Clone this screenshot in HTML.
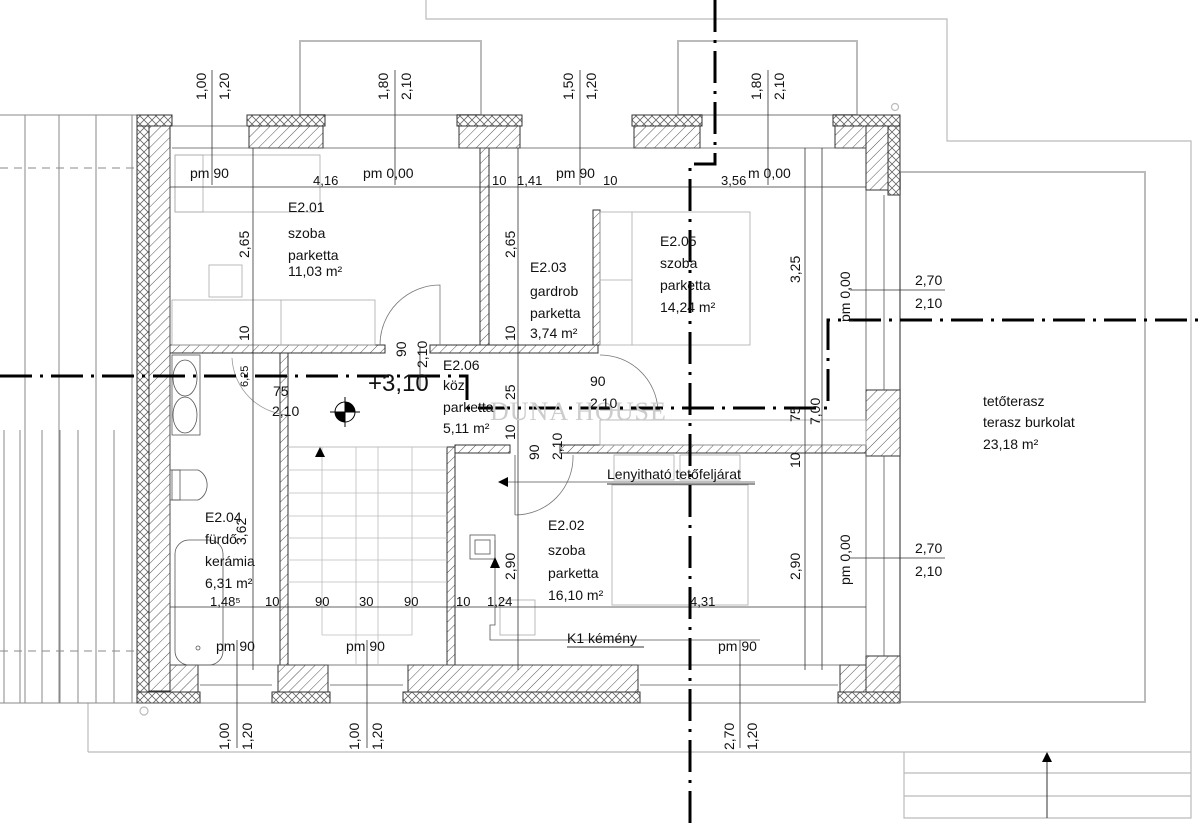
<!DOCTYPE html>
<html><head><meta charset="utf-8"><style>
html,body{margin:0;padding:0;background:#fff;}
svg{display:block;font-family:"Liberation Sans",Arial,sans-serif;}
</style></head><body>
<svg width="1200" height="824" viewBox="0 0 1200 824" xmlns="http://www.w3.org/2000/svg">
<defs>
<pattern id="h" width="7" height="7" patternUnits="userSpaceOnUse" patternTransform="rotate(45)">
<rect width="7" height="7" fill="#fff"/><line x1="0" y1="0" x2="0" y2="7" stroke="#555" stroke-width="1"/></pattern>
<pattern id="x" width="8" height="8" patternUnits="userSpaceOnUse">
<rect width="8" height="8" fill="#fff"/><path d="M0 0L8 8M8 0L0 8" stroke="#666" stroke-width="0.8"/></pattern>
</defs>
<rect width="1200" height="824" fill="#fff"/>
<!-- outer context lines -->
<g fill="none" stroke="#bbb" stroke-width="1.2">
<polyline points="426,0 426,19 947,19 947,141 1191,141 1191,818 904,818 904,752"/>
<line x1="88" y1="752" x2="1191" y2="752"/>
<line x1="88" y1="703" x2="88" y2="752"/>
<line x1="904" y1="773" x2="1191" y2="773"/>
<line x1="904" y1="796" x2="1191" y2="796"/>
<rect x="300" y="41" width="181" height="74" stroke-width="2"/>
<rect x="678" y="41" width="179" height="74" stroke-width="2"/>
<rect x="900" y="172" width="245" height="530" stroke-width="2"/>
<circle cx="895" cy="107" r="3.5"/><circle cx="144" cy="711" r="4"/>
</g>
<line x1="1047" y1="818" x2="1047" y2="760" stroke="#333"/>
<polygon points="1047,752 1042,762 1052,762" fill="#000"/>
<!-- left stripes -->
<g stroke="#888" stroke-width="1">
<line x1="0" y1="115" x2="137" y2="115"/><line x1="0" y1="703" x2="137" y2="703"/>
<line x1="25" y1="115" x2="25" y2="703"/><line x1="59" y1="115" x2="59" y2="703"/>
<line x1="96" y1="115" x2="96" y2="703"/><line x1="132" y1="115" x2="132" y2="703"/>
<line x1="4" y1="430" x2="4" y2="703"/><line x1="20" y1="430" x2="20" y2="703"/><line x1="42" y1="430" x2="42" y2="703"/><line x1="60" y1="430" x2="60" y2="703"/><line x1="78" y1="430" x2="78" y2="703"/><line x1="114" y1="430" x2="114" y2="703"/>
<line x1="0" y1="168" x2="135" y2="168" stroke-dasharray="8,6"/>
<line x1="0" y1="651" x2="135" y2="651" stroke-dasharray="8,6"/>
</g>
<!-- walls -->
<g stroke="#333" stroke-width="1">
<rect x="137" y="115" width="12" height="588" fill="url(#x)"/>
<rect x="149" y="126" width="21" height="565" fill="url(#h)"/>
<rect x="888" y="115" width="12" height="80" fill="url(#x)"/>
<rect x="866" y="126" width="22" height="64" fill="url(#h)"/>
<rect x="866" y="390" width="34" height="66" fill="url(#h)"/>
<rect x="866" y="656" width="34" height="47" fill="url(#h)"/>
<rect x="137" y="115" width="35" height="11" fill="url(#x)"/>
<rect x="247" y="115" width="78" height="11" fill="url(#x)"/><rect x="249" y="126" width="74" height="22" fill="url(#h)"/>
<rect x="457" y="115" width="65" height="11" fill="url(#x)"/><rect x="459" y="126" width="61" height="22" fill="url(#h)"/>
<rect x="632" y="115" width="70" height="11" fill="url(#x)"/><rect x="634" y="126" width="66" height="22" fill="url(#h)"/>
<rect x="833" y="115" width="67" height="11" fill="url(#x)"/><rect x="835" y="126" width="31" height="22" fill="url(#h)"/>
<rect x="137" y="692" width="63" height="11" fill="url(#x)"/><rect x="170" y="665" width="28" height="27" fill="url(#h)"/>
<rect x="272" y="692" width="58" height="11" fill="url(#x)"/><rect x="278" y="665" width="50" height="27" fill="url(#h)"/>
<rect x="403" y="692" width="237" height="11" fill="url(#x)"/><rect x="408" y="665" width="230" height="27" fill="url(#h)"/>
<rect x="838" y="692" width="62" height="11" fill="url(#x)"/><rect x="840" y="665" width="26" height="27" fill="url(#h)"/>
<!-- interior -->
<rect x="170" y="345" width="215" height="8" fill="url(#h)"/>
<rect x="430" y="345" width="168" height="8" fill="url(#h)"/>
<rect x="480" y="148" width="9" height="197" fill="url(#h)"/>
<rect x="593" y="210" width="7" height="135" fill="url(#h)"/>
<rect x="280" y="353" width="8" height="312" fill="url(#h)"/>
<rect x="447" y="447" width="8" height="218" fill="url(#h)"/>
<rect x="455" y="445" width="55" height="8" fill="url(#h)"/>
<rect x="560" y="445" width="306" height="8" fill="url(#h)"/>
</g>
<g fill="none" stroke="#555" stroke-width="0.8">
<line x1="172" y1="126" x2="247" y2="126"/><line x1="172" y1="148" x2="866" y2="148"/>
<line x1="170" y1="665" x2="866" y2="665"/><line x1="137" y1="703" x2="900" y2="703"/>
<line x1="200" y1="685" x2="272" y2="685"/><line x1="330" y1="685" x2="403" y2="685"/><line x1="640" y1="685" x2="838" y2="685"/>
<line x1="866" y1="190" x2="866" y2="656"/><line x1="900" y1="190" x2="900" y2="703"/><line x1="884" y1="195" x2="884" y2="390"/><line x1="884" y1="456" x2="884" y2="656"/>
<line x1="170" y1="148" x2="170" y2="665"/>
<!-- furniture -->
<g stroke="#aaa">
<rect x="175" y="155" width="145" height="57"/><rect x="175" y="155" width="28" height="57"/>
<rect x="209" y="265" width="33" height="32"/><rect x="172" y="300" width="203" height="45"/><line x1="281" y1="300" x2="281" y2="345"/>
<rect x="600" y="212" width="150" height="133"/><line x1="632" y1="212" x2="632" y2="345"/><line x1="600" y1="280" x2="632" y2="280"/>
<rect x="612" y="485" width="136" height="120"/><rect x="614" y="455" width="60" height="25"/><rect x="680" y="455" width="60" height="25"/>
<rect x="500" y="600" width="35" height="35"/>
<rect x="600" y="420" width="266" height="25"/>
</g>
<!-- stairs -->
<g stroke="#bbb">
<line x1="288" y1="447" x2="447" y2="447"/><line x1="288" y1="470" x2="447" y2="470"/><line x1="288" y1="493" x2="447" y2="493"/><line x1="288" y1="516" x2="447" y2="516"/><line x1="288" y1="538" x2="447" y2="538"/><line x1="288" y1="560" x2="447" y2="560"/><line x1="288" y1="582" x2="447" y2="582"/>
<line x1="322" y1="447" x2="322" y2="635"/><line x1="356" y1="447" x2="356" y2="665"/><line x1="378" y1="447" x2="378" y2="665"/><line x1="412" y1="447" x2="412" y2="635"/><line x1="322" y1="635" x2="412" y2="635"/>
<line x1="288" y1="447" x2="447" y2="447"/>
</g>
<!-- bathroom fixtures -->
<ellipse cx="185" cy="378" rx="12" ry="18"/><ellipse cx="185" cy="415" rx="12" ry="18"/><rect x="172" y="355" width="28" height="80"/>
<path d="M172 470 H198 A14 16 0 0 1 198 500 H172 Z"/><rect x="170" y="470" width="10" height="30"/>
<rect x="175" y="540" width="48" height="125" rx="14"/>
<circle cx="198" cy="648" r="2"/>
<!-- doors -->
<path d="M380 345 A60 60 0 0 1 440 285 L440 345" stroke="#777"/>
<path d="M290 415 A60 60 0 0 1 232 358" stroke="#999"/>
<path d="M600 355 A58 58 0 0 1 658 410" stroke="#777"/><line x1="600" y1="410" x2="660" y2="410" stroke="#999"/>
<path d="M515 515 A58 58 0 0 0 573 455" stroke="#777"/><line x1="515" y1="455" x2="515" y2="515"/>
<rect x="470" y="535" width="25" height="24"/><rect x="475" y="540" width="15" height="14"/>
<polyline points="495,540 495,625 490,625 490,640 760,640"/>
<line x1="500" y1="482" x2="755" y2="482"/>
</g>
<polygon points="495,557 490,568 500,568" fill="#000"/>
<polygon points="498,482 508,477 508,487" fill="#000"/>
<polygon points="320,447 315,457 325,457" fill="#000"/>
<!-- level marker -->
<circle cx="345" cy="412" r="10" fill="#fff" stroke="#000"/>
<path d="M345 412 V402 A10 10 0 0 1 355 412 Z M345 412 V422 A10 10 0 0 1 335 412 Z" fill="#000"/>
<line x1="330" y1="412" x2="360" y2="412" stroke="#000"/><line x1="345" y1="397" x2="345" y2="427" stroke="#000"/>
<!-- dimension lines -->
<g stroke="#333" stroke-width="0.8" fill="none">
<line x1="170" y1="187" x2="866" y2="187"/>
<line x1="170" y1="607" x2="866" y2="607"/>
<line x1="253" y1="148" x2="253" y2="670"/>
<line x1="518" y1="148" x2="518" y2="670"/>
<line x1="805" y1="148" x2="805" y2="670"/>
<line x1="822" y1="148" x2="822" y2="670"/>
<line x1="212" y1="70" x2="212" y2="185"/><line x1="395" y1="70" x2="395" y2="185"/><line x1="580" y1="70" x2="580" y2="185"/><line x1="768" y1="70" x2="768" y2="185"/>
<line x1="237" y1="640" x2="237" y2="748"/><line x1="367" y1="640" x2="367" y2="748"/><line x1="740" y1="640" x2="740" y2="748"/>
<line x1="850" y1="290" x2="945" y2="290"/><line x1="850" y1="558" x2="945" y2="558"/>
<line x1="420" y1="347" x2="420" y2="390"/>
</g>
<!-- axis lines -->
<g stroke="#000" stroke-width="3" fill="none" stroke-dasharray="32,8,3,8">
<polyline points="0,376 467,376 467,408 828,408 828,320 1200,320"/>
<polyline points="715,0 715,164 690,164 690,824"/>
</g>
<!-- watermark -->
<text x="490" y="420" font-family="'Liberation Serif',serif" font-size="26" fill="#ccc" letter-spacing="1">DUNA HOUSE</text>
<!-- texts -->
<g font-size="14" fill="#111">
<text x="190" y="178">pm 90</text><text x="313" y="185" font-size="13">4,16</text><text x="363" y="178">pm 0,00</text>
<text x="492" y="185" font-size="13">10</text><text x="517" y="185" font-size="13">1,41</text><text x="556" y="178">pm 90</text><text x="603" y="185" font-size="13">10</text>
<text x="721" y="185" font-size="13">3,56</text><text x="748" y="178">m 0,00</text>
<text x="288" y="212">E2.01</text><text x="288" y="238">szoba</text><text x="288" y="260">parketta</text><text x="288" y="276">11,03 m²</text>
<text x="530" y="272">E2.03</text><text x="530" y="296">gardrob</text><text x="530" y="318">parketta</text><text x="530" y="338">3,74 m²</text>
<text x="660" y="246">E2.05</text><text x="660" y="268">szoba</text><text x="660" y="290">parketta</text><text x="660" y="312">14,24 m²</text>
<text x="443" y="370">E2.06</text><text x="443" y="390">köz.</text><text x="443" y="412">parketta</text><text x="443" y="433">5,11 m²</text>
<text x="368" y="391" font-size="24">+3,10</text>
<text x="273" y="396">75</text><text x="272" y="416">2,10</text>
<text x="590" y="386">90</text><text x="590" y="408">2,10</text>
<text x="607" y="479">Lenyitható tetőfeljárat</text>
<text x="205" y="522">E2.04</text><text x="205" y="544">fürdő</text><text x="205" y="566">kerámia</text><text x="205" y="588">6,31 m²</text>
<text x="548" y="530">E2.02</text><text x="548" y="555">szoba</text><text x="548" y="578">parketta</text><text x="548" y="600">16,10 m²</text>
<g font-size="13"><text x="210" y="606">1,48⁵</text><text x="265" y="606">10</text><text x="315" y="606">90</text><text x="359" y="606">30</text><text x="404" y="606">90</text><text x="456" y="606">10</text><text x="487" y="606">1,24</text><text x="690" y="606">4,31</text></g>
<text x="567" y="643">K1 kémény</text>
<text x="216" y="651">pm 90</text><text x="346" y="651">pm 90</text><text x="718" y="651">pm 90</text>
<text x="915" y="285">2,70</text><text x="915" y="308">2,10</text>
<text x="915" y="553">2,70</text><text x="915" y="576">2,10</text>
<text x="983" y="406">tetőterasz</text><text x="983" y="427">terasz burkolat</text><text x="983" y="449">23,18 m²</text>
<!-- rotated -->
<g>
<text transform="translate(206,100) rotate(-90)">1,00</text><text transform="translate(229,100) rotate(-90)">1,20</text>
<text transform="translate(388,100) rotate(-90)">1,80</text><text transform="translate(411,100) rotate(-90)">2,10</text>
<text transform="translate(573,100) rotate(-90)">1,50</text><text transform="translate(596,100) rotate(-90)">1,20</text>
<text transform="translate(761,100) rotate(-90)">1,80</text><text transform="translate(784,100) rotate(-90)">2,10</text>
<text transform="translate(229,750) rotate(-90)">1,00</text><text transform="translate(252,750) rotate(-90)">1,20</text>
<text transform="translate(359,750) rotate(-90)">1,00</text><text transform="translate(382,750) rotate(-90)">1,20</text>
<text transform="translate(734,750) rotate(-90)">2,70</text><text transform="translate(757,750) rotate(-90)">1,20</text>
<text transform="translate(249,258) rotate(-90)">2,65</text><text transform="translate(515,258) rotate(-90)">2,65</text>
<text transform="translate(800,283) rotate(-90)">3,25</text><text transform="translate(850,322) rotate(-90)">pm 0,00</text>
<text transform="translate(249,341) rotate(-90)">10</text><text transform="translate(515,341) rotate(-90)">10</text>
<text transform="translate(406,357) rotate(-90)">90</text><text transform="translate(427,368) rotate(-90)">2,10</text>
<text transform="translate(248,387) rotate(-90)" font-size="11">6,25</text>
<text transform="translate(515,400) rotate(-90)">25</text><text transform="translate(515,440) rotate(-90)">10</text>
<text transform="translate(539,460) rotate(-90)">90</text><text transform="translate(562,460) rotate(-90)">2,10</text>
<text transform="translate(800,422) rotate(-90)">75</text><text transform="translate(820,425) rotate(-90)">7,00</text><text transform="translate(800,468) rotate(-90)">10</text>
<text transform="translate(246,545) rotate(-90)">3,62</text>
<text transform="translate(515,580) rotate(-90)">2,90</text><text transform="translate(800,580) rotate(-90)">2,90</text>
<text transform="translate(850,585) rotate(-90)">pm 0,00</text>
</g>
</g>
<line x1="607" y1="484" x2="755" y2="484" stroke="#333"/>
<line x1="567" y1="647" x2="644" y2="647" stroke="#333"/>
</svg>
</body></html>
